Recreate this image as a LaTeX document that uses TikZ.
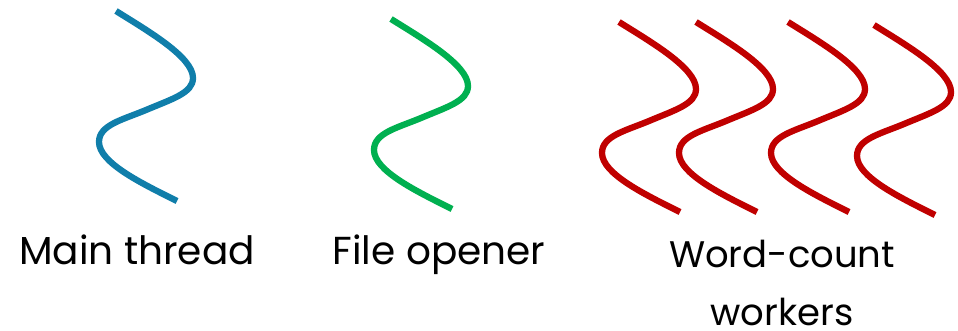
\documentclass[tikz,border=0pt]{standalone}
\usepackage{fontspec}
\setmainfont{Poppins}
\definecolor{tblue}{HTML}{107EAA}
\definecolor{tgreen}{HTML}{00B050}
\definecolor{tred}{HTML}{C00000}
\tikzset{threadline/.style={line width=6.3pt,line cap=butt},
 lab/.style={font=\fontsize{39}{46}\selectfont,align=center,text=black,inner sep=0pt},
 labw/.style={font=\fontsize{37}{44}\selectfont,align=center,text=black,inner sep=0pt}}
\newcommand{\thr}[3]{\draw[threadline,#1,shift={(#2,#3)}] (116,-11) .. controls (148,-31) and (193,-57) .. (193,-78) .. controls (193,-93) and (172,-99) .. (146,-110) .. controls (122,-120) and (99,-125) .. (99,-142) .. controls (99,-163) and (143,-184) .. (177,-201);}
\begin{document}
\begin{tikzpicture}[x=1pt,y=1pt]
\useasboundingbox (0,0) rectangle (958,-331);
\thr{tblue}{0}{0}
\thr{tgreen}{275}{-8}
\thr{tred}{503}{-11}
\thr{tred}{580}{-11}
\thr{tred}{672}{-11}
\thr{tred}{758}{-14}
\node[lab,anchor=base] (m) at (137,-264) {Main thread};
\node[lab,anchor=base] (f) at (439,-264) {File opener};
\node[labw,anchor=base] (w) at (782,-267) {Word-count};
\node[labw,anchor=base] (w2) at (782,-325) {workers};
\end{tikzpicture}
\end{document}
